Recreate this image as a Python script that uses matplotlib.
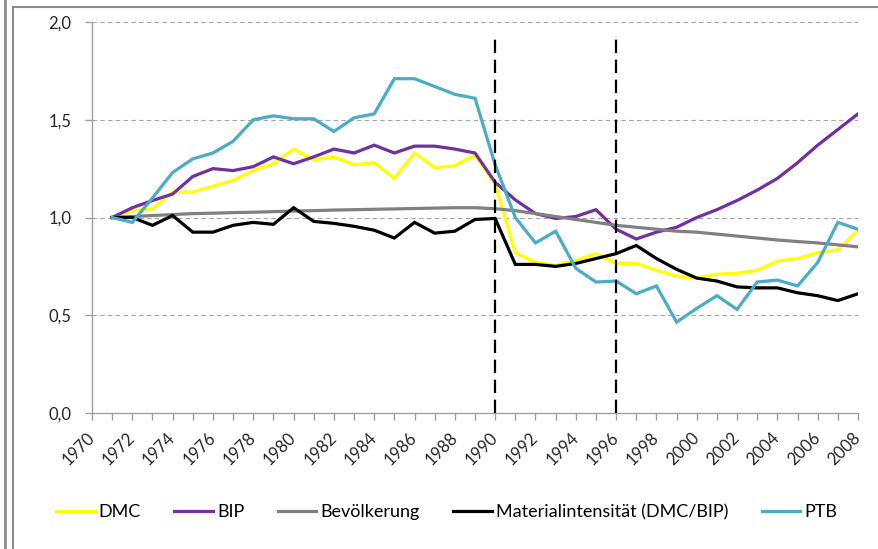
import matplotlib
matplotlib.use("Agg")
import matplotlib.pyplot as plt
from matplotlib.lines import Line2D

plt.rcParams['font.family'] = ['Lato', 'DejaVu Sans']

years = list(range(1971, 2009))

dmc = [1.00, 1.035, 1.045, 1.13, 1.13, 1.16, 1.19, 1.24, 1.275, 1.35,
       1.295, 1.31, 1.27, 1.28, 1.20, 1.33, 1.255, 1.265, 1.32, 1.17,
       0.82, 0.77, 0.755, 0.78, 0.815, 0.765, 0.765, 0.73, 0.70, 0.69,
       0.71, 0.715, 0.73, 0.777, 0.79, 0.82, 0.835, 0.935]

bip = [1.00, 1.05, 1.087, 1.12, 1.21, 1.25, 1.24, 1.26, 1.31, 1.275,
       1.31, 1.35, 1.33, 1.37, 1.33, 1.365, 1.365, 1.35, 1.33, 1.18,
       1.09, 1.02, 0.995, 1.005, 1.04, 0.94, 0.89, 0.925, 0.95, 1.00,
       1.04, 1.087, 1.14, 1.20, 1.28, 1.37, 1.45, 1.53]

bevoelkerung = [1.00, 1.005, 1.01, 1.015, 1.02, 1.022, 1.025, 1.027, 1.03, 1.033,
                1.035, 1.038, 1.04, 1.042, 1.044, 1.046, 1.048, 1.05, 1.05, 1.045,
                1.035, 1.02, 1.005, 0.99, 0.975, 0.96, 0.95, 0.94, 0.93, 0.925,
                0.915, 0.905, 0.895, 0.885, 0.877, 0.87, 0.86, 0.85]

materialintensitaet = [1.00, 1.00, 0.96, 1.01, 0.925, 0.925, 0.96, 0.975, 0.965, 1.05,
                       0.98, 0.97, 0.955, 0.935, 0.895, 0.975, 0.92, 0.93, 0.99, 0.995,
                       0.76, 0.76, 0.75, 0.765, 0.79, 0.815, 0.857, 0.79, 0.735, 0.69,
                       0.675, 0.645, 0.64, 0.64, 0.615, 0.60, 0.575, 0.61]

ptb = [1.00, 0.975, 1.10, 1.23, 1.30, 1.33, 1.39, 1.50, 1.52, 1.505,
       1.505, 1.44, 1.51, 1.53, 1.71, 1.71, 1.67, 1.63, 1.61, 1.27,
       1.00, 0.87, 0.93, 0.74, 0.67, 0.675, 0.61, 0.65, 0.465, 0.535,
       0.60, 0.53, 0.67, 0.68, 0.65, 0.77, 0.975, 0.94]

series_labels = ["DMC", "BIP", "Bevölkerung", "Materialintensität (DMC/BIP)", "PTB"]
series_colors = ["#FFFF00", "#7030A0", "#808080", "#000000", "#4BACC6"]

x_tick_years = list(range(1970, 2009, 2))
y_ticks = [0.0, 0.5, 1.0, 1.5, 2.0]
y_tick_labels = ["0,0", "0,5", "1,0", "1,5", "2,0"]
event_years = [1990, 1996]
event_top = 1.93

fig = plt.figure(figsize=(8.79, 5.49), dpi=100)
ax = fig.add_axes([92/879, 1-413/549, 766/879, 391/549])

ax.set_xlim(1970, 2008)
ax.set_ylim(0, 2.0)

for yv in y_ticks[1:]:
    ax.axhline(yv, color="#A6A6A6", lw=0.8, ls=(0, (4, 3)), zorder=1)

all_series = [dmc, bip, bevoelkerung, materialintensitaet, ptb]
handles = []
for vals, lab, col in zip(all_series, series_labels, series_colors):
    h, = ax.plot(years, vals, color=col, lw=2.3, label=lab, zorder=3,
                 solid_joinstyle='miter')
    handles.append(h)

ax.vlines(event_years, 0, event_top, colors="black", lw=1.6,
          linestyles=[(0, (6, 3))], zorder=4)

for s in ["top", "right"]:
    ax.spines[s].set_visible(False)
for s in ["left", "bottom"]:
    ax.spines[s].set_color("#A0A0A0")
    ax.spines[s].set_linewidth(1.0)

ax.set_yticks(y_ticks)
ax.set_yticklabels(y_tick_labels, fontsize=12, color="#262626")
ax.set_xticks(list(range(1970, 2009)), minor=True)
ax.set_xticks(x_tick_years)
ax.set_xticklabels([str(y) for y in x_tick_years], fontsize=12, color="#262626",
                   rotation=45, ha="right", va="center", rotation_mode="anchor")
ax.tick_params(axis="both", which="both", color="#A0A0A0", length=5, width=1.0)
ax.tick_params(axis="x", which="major", pad=11)
ax.tick_params(axis="y", pad=10)

fig.legend(handles, series_labels, loc="center", bbox_to_anchor=(0.508, 1-512/549),
           ncol=5, frameon=False, fontsize=13, handlelength=2.15, handletextpad=0.22,
           columnspacing=1.85)

# outer frames
fig.add_artist(Line2D([13/879, 1.0], [1-7/549, 1-7/549], transform=fig.transFigure,
                      color="#8C8C8C", lw=1.5))
fig.add_artist(Line2D([13/879, 13/879], [0, 1-7/549], transform=fig.transFigure,
                      color="#8C8C8C", lw=1.5))
fig.add_artist(Line2D([5/879, 5/879], [0, 1], transform=fig.transFigure,
                      color="#8C8C8C", lw=2.0))

fig.savefig("out.png", dpi=100)
